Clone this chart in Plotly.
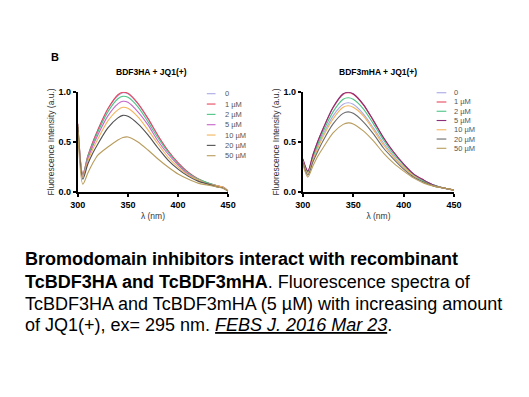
import plotly.graph_objects as go

W, H = 529, 397

wavelength = [300, 305, 310, 315, 320, 330, 340, 345, 350, 360, 370, 380, 390, 400, 410, 420, 430, 440, 445, 450]
labels = ["0", "1 µM", "2 µM", "5 µM", "10 µM", "20 µM", "50 µM"]

left_colors = ["#a8a8e4", "#e8475e", "#4cc585", "#c665c9", "#f2b55c", "#505050", "#b89c5c"]
right_colors = ["#a8a8e4", "#e8475e", "#4cc585", "#8a2f78", "#f2b55c", "#6a6a6a", "#b89c5c"]

left_0 = [0.68, 0.18, 0.36, 0.50, 0.62, 0.83, 0.96, 0.99, 0.98, 0.88, 0.73, 0.56, 0.41, 0.29, 0.20, 0.13, 0.09, 0.06, 0.05, 0.01]
left_1 = [0.68, 0.18, 0.36, 0.50, 0.62, 0.83, 0.97, 0.995, 0.985, 0.885, 0.735, 0.565, 0.415, 0.295, 0.20, 0.135, 0.09, 0.06, 0.05, 0.01]
left_2 = [0.67, 0.17, 0.35, 0.48, 0.60, 0.80, 0.93, 0.955, 0.945, 0.85, 0.70, 0.54, 0.40, 0.28, 0.19, 0.13, 0.09, 0.06, 0.05, 0.01]
left_5 = [0.66, 0.16, 0.33, 0.46, 0.57, 0.76, 0.88, 0.905, 0.895, 0.80, 0.67, 0.51, 0.38, 0.27, 0.18, 0.12, 0.08, 0.06, 0.05, 0.01]
left_10 = [0.66, 0.15, 0.31, 0.43, 0.53, 0.71, 0.82, 0.845, 0.835, 0.75, 0.62, 0.48, 0.35, 0.25, 0.17, 0.12, 0.08, 0.06, 0.05, 0.01]
left_20 = [0.65, 0.13, 0.28, 0.39, 0.48, 0.64, 0.74, 0.765, 0.755, 0.68, 0.57, 0.44, 0.32, 0.23, 0.16, 0.11, 0.08, 0.05, 0.04, 0.01]
left_50 = [0.60, 0.08, 0.19, 0.29, 0.37, 0.45, 0.52, 0.545, 0.55, 0.50, 0.42, 0.33, 0.25, 0.18, 0.13, 0.09, 0.07, 0.05, 0.04, 0.01]

right_0 = [0.32, 0.19, 0.33, 0.46, 0.57, 0.76, 0.875, 0.89, 0.875, 0.78, 0.64, 0.49, 0.36, 0.25, 0.16, 0.11, 0.07, 0.04, 0.03, 0.02]
right_1 = [0.33, 0.21, 0.37, 0.51, 0.63, 0.84, 0.975, 0.99, 0.975, 0.87, 0.71, 0.54, 0.40, 0.28, 0.18, 0.12, 0.07, 0.04, 0.03, 0.02]
right_2 = [0.32, 0.20, 0.35, 0.48, 0.60, 0.80, 0.925, 0.94, 0.925, 0.83, 0.68, 0.52, 0.38, 0.27, 0.17, 0.11, 0.07, 0.04, 0.03, 0.02]
right_5 = [0.33, 0.21, 0.37, 0.51, 0.63, 0.845, 0.98, 0.995, 0.98, 0.875, 0.715, 0.545, 0.40, 0.28, 0.18, 0.12, 0.07, 0.04, 0.03, 0.02]
right_10 = [0.31, 0.18, 0.32, 0.44, 0.55, 0.73, 0.845, 0.86, 0.845, 0.76, 0.62, 0.47, 0.35, 0.25, 0.16, 0.10, 0.06, 0.04, 0.03, 0.02]
right_20 = [0.30, 0.17, 0.30, 0.41, 0.51, 0.68, 0.785, 0.80, 0.785, 0.70, 0.58, 0.44, 0.33, 0.23, 0.15, 0.10, 0.06, 0.04, 0.03, 0.02]
right_50 = [0.28, 0.15, 0.26, 0.36, 0.44, 0.59, 0.675, 0.69, 0.68, 0.61, 0.51, 0.39, 0.29, 0.21, 0.14, 0.09, 0.06, 0.04, 0.03, 0.02]

left_series = [left_0, left_1, left_2, left_5, left_10, left_20, left_50]
right_series = [right_0, right_1, right_2, right_5, right_10, right_20, right_50]

x_ticks = [300, 350, 400, 450]
y_ticks = [0.0, 0.5, 1.0]
y_tick_text = ["0.0", "0.5", "1.0"]

titles = ["BDF3HA + JQ1(+)", "BDF3mHA + JQ1(+)"]
x_title = "λ (nm)"
y_title = "Fluorescence Intensity (a.u.)"

caption_lines = [
    "<b>Bromodomain inhibitors interact with recombinant</b>",
    "<b>TcBDF3HA and TcBDF3mHA</b>. Fluorescence spectra of",
    "TcBDF3HA and TcBDF3mHA (5 µM) with increasing amount",
    "of JQ1(+), ex= 295 nm. <i><u>FEBS J. 2016 Mar 23</u></i>.",
]

FONT = "Liberation Sans, Arial, sans-serif"


def px_x(p):
    return p / W


def px_y(p):
    return 1 - p / H


fig = go.Figure()

panels = [
    dict(x0=72, x1=227, xa="x", ya="y", series=left_series, colors=left_colors,
         leg_line=(205, 214), leg_text=222, leg_y0=91, leg_dy=10.6, title_x=148),
    dict(x0=304, x1=460, xa="x2", ya="y2", series=right_series, colors=right_colors,
         leg_line=(442, 452), leg_text=458, leg_y0=90, leg_dy=9.5, title_x=382),
]
y_top, y_bot = 89, 192

for p in panels:
    for lab, vals, col in zip(labels, p["series"], p["colors"]):
        fig.add_trace(go.Scatter(
            x=wavelength, y=vals, mode="lines", name=lab,
            line=dict(color=col, width=1.1, shape="spline", smoothing=0.8),
            xaxis=p["xa"], yaxis=p["ya"], showlegend=False, hoverinfo="skip",
        ))

axis_common = dict(
    showline=True, linecolor="black", linewidth=2,
    ticks="outside", ticklen=3, tickwidth=2, tickcolor="black",
    showgrid=False, zeroline=False,
    tickfont=dict(family=FONT, size=9, color="black", weight="bold"),
    title_font=dict(family=FONT, size=8.5, color="#333333"),
)

for i, p in enumerate(panels):
    sx = "" if i == 0 else "2"
    fig.update_layout(**{
        f"xaxis{sx}": dict(
            axis_common, domain=[px_x(p["x0"]), px_x(p["x1"])], range=[300, 450],
            tickvals=x_ticks, anchor=f"y{sx}",
            title=dict(text=x_title, standoff=4),
        ),
        f"yaxis{sx}": dict(
            axis_common, domain=[px_y(y_bot), px_y(y_top)], range=[0, 1.0],
            tickvals=y_ticks, ticktext=y_tick_text, anchor=f"x{sx}",
            title=dict(text=y_title, standoff=3),
        ),
    })

annotations = []
shapes = []
for i, p in enumerate(panels):
    annotations.append(dict(
        x=px_x(p["title_x"]), y=px_y(69), xref="paper", yref="paper",
        text=f"<b>{titles[i]}</b>", showarrow=False,
        font=dict(family=FONT, size=8.5, color="black"), xanchor="center", yanchor="middle",
    ))
    for j, (lab, col) in enumerate(zip(labels, p["colors"])):
        yy = p["leg_y0"] + j * p["leg_dy"]
        shapes.append(dict(
            type="line", xref="paper", yref="paper",
            x0=px_x(p["leg_line"][0]), x1=px_x(p["leg_line"][1]),
            y0=px_y(yy), y1=px_y(yy), line=dict(color=col, width=1.1),
        ))
        annotations.append(dict(
            x=px_x(p["leg_text"]), y=px_y(yy), xref="paper", yref="paper",
            text=lab, showarrow=False, xanchor="left", yanchor="middle",
            font=dict(family=FONT, size=7.5, color="#555555"),
        ))

annotations.append(dict(
    x=px_x(48), y=px_y(53), xref="paper", yref="paper", text="<b>B</b>",
    showarrow=False, xanchor="center", yanchor="middle",
    font=dict(family=FONT, size=11, color="black"),
))

caption_y = [261, 284, 306.5, 328.5]
for line, yy in zip(caption_lines, caption_y):
    annotations.append(dict(
        x=px_x(15), y=px_y(yy), xref="paper", yref="paper", text=line,
        showarrow=False, xanchor="left", yanchor="middle",
        font=dict(family=FONT, size=18, color="black"),
    ))

fig.update_layout(
    width=W, height=H, margin=dict(l=0, r=0, t=0, b=0),
    paper_bgcolor="white", plot_bgcolor="white",
    showlegend=False, annotations=annotations, shapes=shapes,
)

fig.write_html(
    "out.html",
    config={"displayModeBar": False},
    post_script="document.body.style.margin='0px';document.body.style.overflow='hidden';",
)
